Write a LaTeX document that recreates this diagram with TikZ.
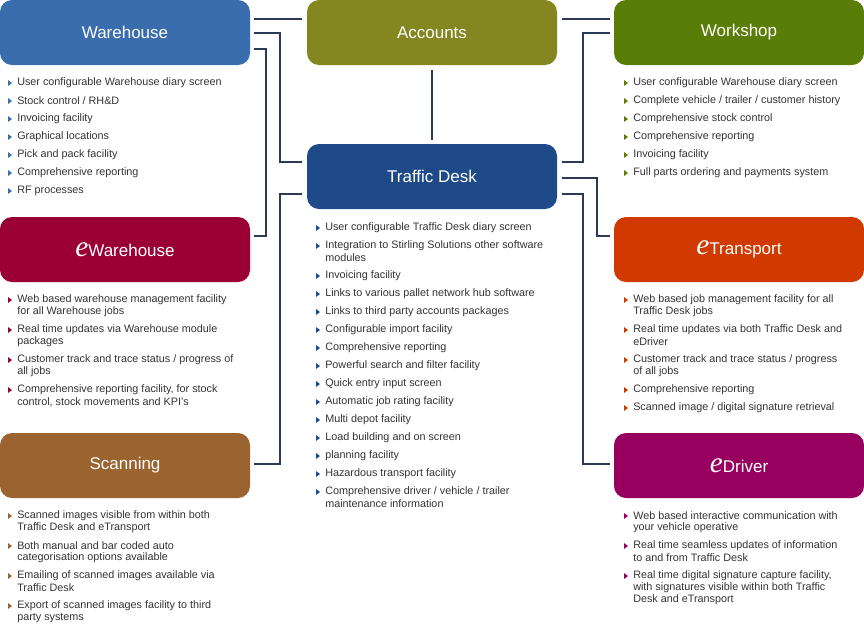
\documentclass[tikz,border=0pt]{standalone}
\usepackage{fontspec}
\setmainfont{Liberation Sans}
\newfontfamily\efont{Liberation Serif}
\definecolor{cWH}{HTML}{3A6DAE}
\definecolor{cAC}{HTML}{84861F}
\definecolor{cWS}{HTML}{5A7D07}
\definecolor{cTD}{HTML}{1F4A8A}
\definecolor{cEW}{HTML}{9B0034}
\definecolor{cET}{HTML}{D03A00}
\definecolor{cSC}{HTML}{9A6330}
\definecolor{cED}{HTML}{980060}
\definecolor{txt}{HTML}{333333}
\definecolor{ln}{HTML}{2B3A55}
\begin{document}
\begin{tikzpicture}[x=0.75pt,y=-0.75pt,
 box/.style={rounded corners=9pt,minimum width=187.5pt,minimum height=48.75pt,inner sep=0,text=white,font=\fontsize{12.75}{14}\selectfont},
 conn/.style={draw=ln,line width=1.6pt},
 item/.style={anchor=west,inner sep=0,text=txt,font=\fontsize{8.1}{9}\selectfont}]
\useasboundingbox (0,0) rectangle (864,626);
\node[box,fill=cWH] (wh) at (125,32.5) {Warehouse};
\node[box,fill=cAC] (ac) at (432,32.5) {Accounts};
\node[box,fill=cWS] (ws) at (739,32.5) {Workshop};
\node[box,fill=cTD] (td) at (432,176.5) {Traffic Desk};
\node[box,fill=cEW] (ew) at (125,249.5) {{\efont\itshape\fontsize{22}{22}\selectfont e}Warehouse};
\node[box,fill=cET] (et) at (739,249.5) {{\efont\itshape\fontsize{22}{22}\selectfont e}Transport};
\node[box,fill=cSC] (sc) at (125,465.5) {Scanning};
\node[box,fill=cED] (ed) at (739,465.5) {{\efont\itshape\fontsize{22}{22}\selectfont e}Driver};
% connectors
\coordinate (a1) at (254,19); \coordinate (a2) at (302,19);
\draw[conn] (a1) -- (a2);
\coordinate (b1) at (562,19); \coordinate (b2) at (610,19);
\draw[conn] (b1) -- (b2);
\draw[conn] (ac.south |- 0,70) -- (ac.south |- 0,140);
\draw[conn] (254,33) -- (280,33) -- (280,162) -- (302,162);
\draw[conn] (254,49) -- (266,49) -- (266,236) -- (254,236);
\draw[conn] (302,194) -- (280,194) -- (280,464) -- (254,464);
\draw[conn] (610,33) -- (583,33) -- (583,162) -- (562,162);
\draw[conn] (562,178) -- (597,178) -- (597,236) -- (610,236);
\draw[conn] (562,194) -- (583,194) -- (583,464) -- (610,464);
% lists
\newcommand\mylist[4]{%
 \foreach \yy/\tt/\bb [count=\i] in {#4} {
  \ifnum\bb=1 \fill[#3] (#2-9,\yy-3) -- (#2-5,\yy) -- (#2-9,\yy+3) -- cycle; \fi
  \node[item] (#1\i) at (#2,\yy) {\tt};
 }}
\mylist{wl}{17}{cWH}{83/{User configurable Warehouse diary screen}/1,101/{Stock control / RH\&D}/1,119/{Invoicing facility}/1,137/{Graphical locations}/1,155/{Pick and pack facility}/1,173/{Comprehensive reporting}/1,191/{RF processes}/1}
\mylist{wsl}{633}{cWS}{83/{User configurable Warehouse diary screen}/1,101/{Complete vehicle / trailer / customer history}/1,119/{Comprehensive stock control}/1,137/{Comprehensive reporting}/1,155/{Invoicing facility}/1,173/{Full parts ordering and payments system}/1}
\mylist{tdl}{325}{cTD}{228/{User configurable Traffic Desk diary screen}/1,246/{Integration to Stirling Solutions other software}/1,258/{modules}/0,276/{Invoicing facility}/1,294/{Links to various pallet network hub software}/1,312/{Links to third party accounts packages}/1,330/{Configurable import facility}/1,348/{Comprehensive reporting}/1,366/{Powerful search and filter facility}/1,384/{Quick entry input screen}/1,402/{Automatic job rating facility}/1,420/{Multi depot facility}/1,438/{Load building and on screen}/1,456/{planning facility}/1,474/{Hazardous transport facility}/1,492/{Comprehensive driver / vehicle / trailer}/1,504/{maintenance information}/0}
\mylist{ewl}{17}{cEW}{300/{Web based warehouse management facility}/1,312/{for all Warehouse jobs}/0,330/{Real time updates via Warehouse module}/1,342/{packages}/0,360/{Customer track and trace status / progress of}/1,372/{all jobs}/0,390/{Comprehensive reporting facility, for stock}/1,402/{control, stock movements and KPI’s}/0}
\mylist{etl}{633}{cET}{300/{Web based job management facility for all}/1,312/{Traffic Desk jobs}/0,330/{Real time updates via both Traffic Desk and}/1,342/{eDriver}/0,360/{Customer track and trace status / progress}/1,372/{of all jobs}/0,390/{Comprehensive reporting}/1,408/{Scanned image / digital signature retrieval}/1}
\mylist{scl}{17}{cSC}{516/{Scanned images visible from within both}/1,528/{Traffic Desk and eTransport}/0,546/{Both manual and bar coded auto}/1,558/{categorisation options available}/0,576/{Emailing of scanned images available via}/1,588/{Traffic Desk}/0,606/{Export of scanned images facility to third}/1,618/{party systems}/0}
\mylist{edl}{633}{cED}{516/{Web based interactive communication with}/1,528/{your vehicle operative}/0,546/{Real time seamless updates of information}/1,558/{to and from Traffic Desk}/0,576/{Real time digital signature capture facility,}/1,588/{with signatures visible within both Traffic}/0,600/{Desk and eTransport}/0}
\end{tikzpicture}
\end{document}
